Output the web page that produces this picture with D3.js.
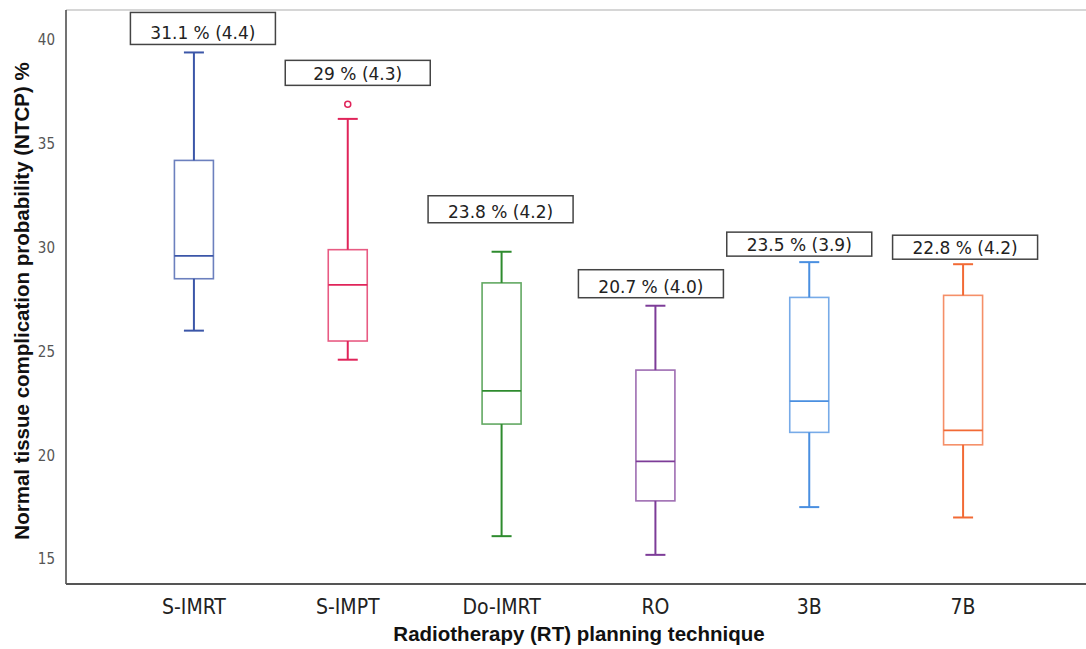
<!DOCTYPE html>
<html>
<head>
<meta charset="utf-8">
<script src="https://cdn.jsdelivr.net/npm/d3@7"></script>
<style>
  html, body { margin: 0; padding: 0; background: #fff; }
  svg { display: block; }
</style>
</head>
<body>
<svg id="chart" width="1086" height="649"></svg>
<script>
// NTCP per planning technique: five-number summaries (%)
const categories  = ["S-IMRT", "S-IMPT", "Do-IMRT", "RO", "3B", "7B"];
const whiskerLow  = [26.0, 24.6, 16.1, 15.2, 17.5, 17.0];
const q1          = [28.5, 25.5, 21.5, 17.8, 21.1, 20.5];
const median      = [29.6, 28.2, 23.1, 19.7, 22.6, 21.2];
const q3          = [34.2, 29.9, 28.3, 24.1, 27.6, 27.7];
const whiskerHigh = [39.4, 36.2, 29.8, 27.2, 29.3, 29.2];
const outliers    = [[], [36.9], [], [], [], []];
const meanSdLabels = ["31.1 % (4.4)", "29 % (4.3)", "23.8 % (4.2)", "20.7 % (4.0)", "23.5 % (3.9)", "22.8 % (4.2)"];
const yTicks = [15, 20, 25, 30, 35, 40];

// Series colours
const colors = ["#3b56a8", "#e0245a", "#2e8b2e", "#7d3c98", "#4a8fe0", "#f26a35"];

// Placement of the mean (SD) boxes: horizontal shift, gap above the top mark, box height
const noteLayout = [
  { dx: 9,    gap: 8,  h: 32 },
  { dx: 10,   gap: 16, h: 25 },
  { dx: -1,   gap: 29, h: 27 },
  { dx: -4.5, gap: 8,  h: 28 },
  { dx: -10,  gap: 6,  h: 24 },
  { dx: 2,    gap: 5,  h: 24 }
];

const svg = d3.select("#chart");
const plot = { left: 66, right: 1086, top: 10, bottom: 584 };

const x = d3.scaleBand().domain(categories).range([117, 1040]).paddingInner(0).paddingOuter(0);
const y = d3.scaleLinear().domain([15, 40]).range([559, 40]);

const boxW = 39, capW = 20;

const rows = categories.map((c, i) => ({
  cat: c, lo: whiskerLow[i], q1: q1[i], med: median[i], q3: q3[i], hi: whiskerHigh[i],
  out: outliers[i], label: meanSdLabels[i], color: colors[i], note: noteLayout[i]
}));

// Frame
svg.append("line").attr("x1", plot.left).attr("x2", plot.right)
  .attr("y1", plot.top).attr("y2", plot.top)
  .attr("stroke", "#c8c8c8").attr("stroke-width", 1.5);

// Y axis (labels only, no tick marks)
const yAxis = d3.axisLeft(y).tickValues(yTicks).tickSize(0).tickPadding(0);
const gy = svg.append("g").attr("transform", `translate(55,0)`).call(yAxis);
gy.select(".domain").remove();
gy.selectAll("text")
  .attr("font-family", "'DejaVu Sans Condensed', 'DejaVu Sans', sans-serif")
  .attr("font-size", 15).attr("fill", "#555");

svg.append("line").attr("x1", plot.left).attr("x2", plot.left)
  .attr("y1", plot.top).attr("y2", plot.bottom)
  .attr("stroke", "#444").attr("stroke-width", 1.5);

// X axis
const xAxis = d3.axisBottom(x).tickSize(0).tickPadding(0);
const gx = svg.append("g").attr("transform", `translate(0,${plot.bottom})`).call(xAxis);
gx.select(".domain").remove();
gx.selectAll("text")
  .attr("dy", 0).attr("y", 30)
  .attr("font-family", "'DejaVu Sans Condensed', 'DejaVu Sans', sans-serif")
  .attr("font-size", 21).attr("fill", "#222");

svg.append("line").attr("x1", plot.left).attr("x2", plot.right)
  .attr("y1", plot.bottom).attr("y2", plot.bottom)
  .attr("stroke", "#555").attr("stroke-width", 2);

// Axis titles
svg.append("text")
  .attr("x", 579).attr("y", 641)
  .attr("text-anchor", "middle")
  .attr("font-family", "'Liberation Sans', Arial, sans-serif")
  .attr("font-weight", "bold").attr("font-size", 20.5).attr("fill", "#111")
  .text("Radiotherapy (RT) planning technique");

svg.append("text")
  .attr("transform", "translate(29,301) rotate(-90)")
  .attr("text-anchor", "middle")
  .attr("font-family", "'Liberation Sans', Arial, sans-serif")
  .attr("font-weight", "bold").attr("font-size", 20.5).attr("fill", "#111")
  .text("Normal tissue complication probability (NTCP) %");

// Box plots
const g = svg.append("g").selectAll("g").data(rows).join("g")
  .attr("transform", d => `translate(${x(d.cat) + x.bandwidth() / 2},0)`);

// whiskers
g.append("line").attr("x1", 0).attr("x2", 0)
  .attr("y1", d => y(d.hi)).attr("y2", d => y(d.q3))
  .attr("stroke", d => d.color).attr("stroke-width", 2);
g.append("line").attr("x1", 0).attr("x2", 0)
  .attr("y1", d => y(d.q1)).attr("y2", d => y(d.lo))
  .attr("stroke", d => d.color).attr("stroke-width", 2);
// caps
g.append("line").attr("x1", -capW / 2).attr("x2", capW / 2)
  .attr("y1", d => y(d.hi)).attr("y2", d => y(d.hi))
  .attr("stroke", d => d.color).attr("stroke-width", 2);
g.append("line").attr("x1", -capW / 2).attr("x2", capW / 2)
  .attr("y1", d => y(d.lo)).attr("y2", d => y(d.lo))
  .attr("stroke", d => d.color).attr("stroke-width", 2);
// box
g.append("rect")
  .attr("x", -boxW / 2).attr("width", boxW)
  .attr("y", d => y(d.q3)).attr("height", d => y(d.q1) - y(d.q3))
  .attr("fill", "none").attr("stroke", d => d.color)
  .attr("stroke-opacity", 0.75).attr("stroke-width", 1.6);
// median
g.append("line").attr("x1", -boxW / 2).attr("x2", boxW / 2)
  .attr("y1", d => y(d.med)).attr("y2", d => y(d.med))
  .attr("stroke", d => d.color).attr("stroke-width", 1.8);
// outliers
g.selectAll("circle").data(d => d.out.map(v => ({ v, color: d.color }))).join("circle")
  .attr("cx", 0).attr("cy", d => y(d.v)).attr("r", 3)
  .attr("fill", "#fff").attr("stroke", d => d.color).attr("stroke-width", 1.5);

// Mean (SD) annotation boxes
const noteW = 145;
const notes = g.append("g").attr("transform", d => {
  const topMark = d.out.length ? Math.max(d.hi, d3.max(d.out)) : d.hi;
  const extra = d.out.length ? 3 : 0;
  const bottom = y(topMark) - extra - d.note.gap;
  return `translate(${d.note.dx},${bottom})`;
});
notes.append("rect")
  .attr("x", -noteW / 2).attr("width", noteW)
  .attr("y", d => -d.note.h).attr("height", d => d.note.h)
  .attr("fill", "#fff").attr("stroke", "#444").attr("stroke-width", 1.5);
notes.append("text")
  .attr("x", 0).attr("y", -5)
  .attr("text-anchor", "middle")
  .attr("font-family", "'DejaVu Sans', sans-serif")
  .attr("font-size", 17).attr("fill", "#222")
  .text(d => d.label);
</script>
</body>
</html>
